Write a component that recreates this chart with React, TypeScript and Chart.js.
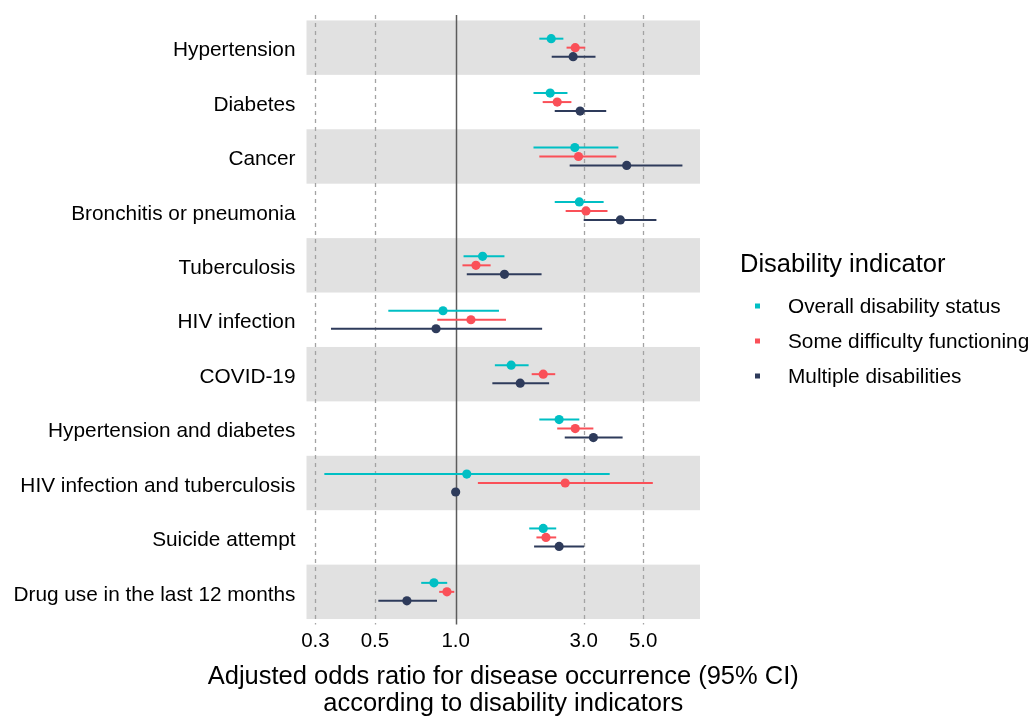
import React, { useEffect, useRef } from "react";
import { Chart, registerables } from "chart.js";
Chart.register(...registerables);

const categories = [
  "Hypertension",
  "Diabetes",
  "Cancer",
  "Bronchitis or pneumonia",
  "Tuberculosis",
  "HIV infection",
  "COVID-19",
  "Hypertension and diabetes",
  "HIV infection and tuberculosis",
  "Suicide attempt",
  "Drug use in the last 12 months",
];

const tickValues = [0.3, 0.5, 1.0, 3.0, 5.0];

const xTitleLines = [
  "Adjusted odds ratio for disease occurrence (95% CI)",
  "according to disability indicators",
];
const legendTitle = "Disability indicator";

const seriesNames = ["Overall disability status", "Some difficulty functioning", "Multiple disabilities"];
const seriesColors = ["#00BFC4", "#FA5058", "#2E3B5B"];

const overallOR = [2.27, 2.25, 2.78, 2.89, 1.26, 0.897, 1.61, 2.43, 1.1, 2.12, 0.83];
const overallLo = [2.05, 1.95, 1.95, 2.34, 1.07, 0.561, 1.4, 2.05, 0.324, 1.88, 0.744];
const overallHi = [2.52, 2.61, 4.04, 3.56, 1.52, 1.45, 1.87, 2.89, 3.75, 2.37, 0.93];

const someOR = [2.79, 2.39, 2.87, 3.06, 1.19, 1.14, 2.12, 2.79, 2.56, 2.17, 0.928];
const someLo = [2.59, 2.11, 2.05, 2.57, 1.06, 0.854, 1.92, 2.39, 1.21, 2.0, 0.868];
const someHi = [3.04, 2.7, 3.97, 3.68, 1.35, 1.54, 2.35, 3.26, 5.43, 2.37, 0.988];

const multOR = [2.74, 2.91, 4.34, 4.11, 1.52, 0.845, 1.74, 3.26, 1.0, 2.43, 0.658];
const multLo = [2.28, 2.34, 2.66, 3.0, 1.1, 0.343, 1.37, 2.55, 1.0, 1.96, 0.515];
const multHi = [3.32, 3.64, 7.0, 5.6, 2.09, 2.1, 2.23, 4.19, 1.0, 3.01, 0.852];

const seriesOR = [overallOR, someOR, multOR];
const seriesLo = [overallLo, someLo, multLo];
const seriesHi = [overallHi, someHi, multHi];
const dodge = [-0.165, 0, 0.165];

const FONT = "'Liberation Sans', Arial, Helvetica, sans-serif";
const TEXT = "#000";

const forestPlugin = {
  id: "forest",
  beforeDatasetsDraw(chart: any) {
    const { ctx, chartArea } = chart;
    const xs = chart.scales.x;
    const ys = chart.scales.y;
    ctx.save();
    ctx.fillStyle = "#E1E1E1";
    categories.forEach((_, i) => {
      if (i % 2 === 0) {
        const t = ys.getPixelForValue(i - 0.5);
        const b = ys.getPixelForValue(i + 0.5);
        ctx.fillRect(chartArea.left, t, chartArea.right - chartArea.left, b - t);
      }
    });
    tickValues.forEach((v) => {
      const x = Math.round(xs.getPixelForValue(v)) + 0.5;
      ctx.beginPath();
      if (v === 1) {
        ctx.setLineDash([]);
        ctx.strokeStyle = "#5C5C5C";
        ctx.lineWidth = 1.5;
      } else {
        ctx.setLineDash([4, 4]);
        ctx.strokeStyle = "#A3A3A3";
        ctx.lineWidth = 1.3;
      }
      ctx.moveTo(x, chartArea.top);
      ctx.lineTo(x, chartArea.bottom);
      ctx.stroke();
    });
    ctx.setLineDash([]);
    chart.data.datasets.forEach((ds: any) => {
      ctx.strokeStyle = ds.backgroundColor;
      ctx.lineWidth = 2;
      ds.data.forEach((p: any, i: number) => {
        const lo = ds.errLo[i];
        const hi = ds.errHi[i];
        if (lo === hi) return;
        const y = ys.getPixelForValue(p.y);
        ctx.beginPath();
        ctx.moveTo(xs.getPixelForValue(lo), y);
        ctx.lineTo(xs.getPixelForValue(hi), y);
        ctx.stroke();
      });
    });
    ctx.restore();
  },
  afterDraw(chart: any) {
    const { ctx, chartArea } = chart;
    ctx.save();
    ctx.fillStyle = TEXT;
    ctx.textBaseline = "middle";
    ctx.textAlign = "center";
    ctx.font = `25.5px ${FONT}`;
    const cx = (chartArea.left + chartArea.right) / 2;
    ctx.fillText(xTitleLines[0], cx, 677);
    ctx.fillText(xTitleLines[1], cx, 704);
    ctx.textAlign = "left";
    ctx.fillText(legendTitle, 740, 265);
    ctx.font = `20.8px ${FONT}`;
    const ys = [306, 341, 376];
    seriesNames.forEach((name, i) => {
      ctx.fillStyle = seriesColors[i];
      ctx.fillRect(755, ys[i] - 2.5, 5, 5);
      ctx.fillStyle = TEXT;
      ctx.fillText(name, 788, ys[i] + 1);
    });
    ctx.restore();
  },
};

export default function App() {
  const ref = useRef<HTMLCanvasElement | null>(null);
  useEffect(() => {
    if (!ref.current) return;
    const datasets = seriesNames.map((name, s) => ({
      label: name,
      type: "scatter" as const,
      data: categories.map((_, i) => ({ x: seriesOR[s][i], y: i + dodge[s] })),
      errLo: seriesLo[s],
      errHi: seriesHi[s],
      backgroundColor: seriesColors[s],
      borderColor: seriesColors[s],
      borderWidth: 0,
      pointRadius: 4.6,
      pointHoverRadius: 4.6,
    }));
    const chart = new Chart(ref.current, {
      type: "scatter",
      data: { datasets: datasets as any },
      options: {
        animation: false,
        responsive: false,
        devicePixelRatio: 1,
        layout: { padding: { top: 15, right: 331, bottom: 0, left: 0 } },
        plugins: { legend: { display: false }, tooltip: { enabled: false } },
        scales: {
          x: {
            type: "logarithmic",
            min: 0.278,
            max: 8.14,
            grid: { display: false, drawTicks: false },
            border: { display: false },
            afterBuildTicks: (scale: any) => {
              scale.ticks = tickValues.map((v) => ({ value: v }));
            },
            afterFit: (scale: any) => {
              scale.height = 91.5;
              scale.paddingLeft = 0;
              scale.paddingRight = 0;
            },
            ticks: {
              autoSkip: false,
              maxRotation: 0,
              padding: 5,
              color: TEXT,
              font: { family: FONT, size: 20.5 },
              callback: (v: any) => Number(v).toFixed(1),
            },
          },
          y: {
            type: "linear",
            reverse: true,
            min: -0.6,
            max: 10.6,
            grid: { display: false, drawTicks: false },
            border: { display: false },
            afterBuildTicks: (scale: any) => {
              scale.ticks = categories.map((_, i) => ({ value: i }));
            },
            afterFit: (scale: any) => {
              scale.width = 306.5;
              scale.paddingTop = 0;
              scale.paddingBottom = 0;
            },
            ticks: {
              autoSkip: false,
              padding: 11,
              labelOffset: 3,
              color: TEXT,
              font: { family: FONT, size: 20.8 },
              callback: (v: any) => categories[Math.round(Number(v))] ?? "",
            },
          },
        },
      },
      plugins: [forestPlugin],
    });
    return () => chart.destroy();
  }, []);
  return (
    <div style={{ position: "absolute", left: 0, top: 0, width: 1031, height: 716, background: "#fff" }}>
      <canvas ref={ref} width={1031} height={716} />
    </div>
  );
}
